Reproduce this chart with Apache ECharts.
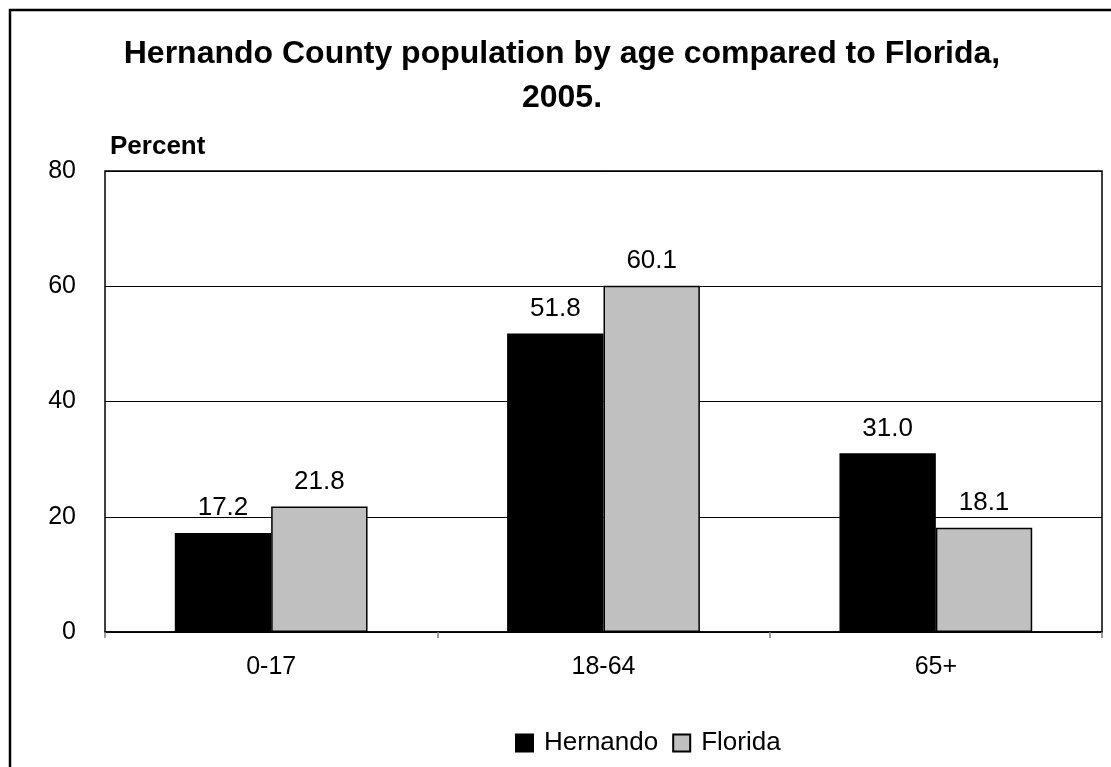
<!DOCTYPE html>
<html><head><meta charset="utf-8">
<script src="https://cdn.jsdelivr.net/npm/echarts@6/dist/echarts.min.js"></script>
<style>html,body{margin:0;padding:0;background:#fff}#c{width:1111px;height:767px}</style>
</head><body><div id="c"></div>
<script>
var categories = ['0-17', '18-64', '65+'];
var hernando = [17.2, 51.8, 31.0];
var florida = [21.8, 60.1, 18.1];
var yTicks = [0, 20, 40, 60, 80];
var titleText = 'Hernando County population by age compared to Florida,\n2005.';

var chart = echarts.init(document.getElementById('c'), null, {renderer: 'canvas'});
var font = 'Liberation Sans, Arial, sans-serif';
chart.setOption({
  animation: false,
  backgroundColor: '#fff',
  textStyle: {fontFamily: font},
  graphic: [
    {type: 'rect', shape: {x: 10, y: 10, width: 1110, height: 770}, style: {fill: 'none', stroke: '#000', lineWidth: 2.5}, z: 100},
    {type: 'text', x: 562, y: 32, style: {text: titleText, font: 'bold 32px ' + font, lineHeight: 44, fill: '#000', align: 'center', textAlign: 'center', verticalAlign: 'top', textVerticalAlign: 'top'}},
    {type: 'text', x: 110, y: 147, style: {text: 'Percent', font: 'bold 26px ' + font, fill: '#000', textVerticalAlign: 'middle', verticalAlign: 'middle'}}
  ],
  legend: {
    top: 725, left: 510,
    icon: 'rect',
    itemWidth: 17, itemHeight: 17, itemGap: 14,
    textStyle: {fontSize: 26, color: '#000', fontFamily: font, padding: [0, 0, 0, 6]},
    data: ['Hernando', 'Florida']
  },
  grid: {left: 105, right: 9, top: 171, bottom: 135, show: true, borderColor: '#000', borderWidth: 1.5},
  xAxis: {
    type: 'category', data: categories,
    axisLine: {lineStyle: {color: '#000', width: 1.5}},
    axisTick: {show: true, length: 6, lineStyle: {color: '#808080', width: 1.5}},
    axisLabel: {fontSize: 25, color: '#000', margin: 23, fontFamily: font}
  },
  yAxis: {
    type: 'value', min: yTicks[0], max: yTicks[yTicks.length - 1], interval: 20,
    axisLine: {show: false}, axisTick: {show: false},
    splitLine: {lineStyle: {color: '#000', width: 1}},
    axisLabel: {fontSize: 25, color: '#000', margin: 29, fontFamily: font}
  },
  series: [
    {name: 'Hernando', type: 'bar', data: hernando, barGap: '0%', barCategoryGap: '42%',
     itemStyle: {color: '#000', borderColor: '#000', borderWidth: 1.5},
     label: {show: true, position: 'top', distance: 12, fontSize: 26, color: '#000', fontFamily: font,
       formatter: function(p){return p.value.toFixed(1);}}},
    {name: 'Florida', type: 'bar', data: florida,
     itemStyle: {color: '#C0C0C0', borderColor: '#000', borderWidth: 1.5},
     label: {show: true, position: 'top', distance: 12, fontSize: 26, color: '#000', fontFamily: font,
       formatter: function(p){return p.value.toFixed(1);}}}
  ]
});
</script></body></html>
